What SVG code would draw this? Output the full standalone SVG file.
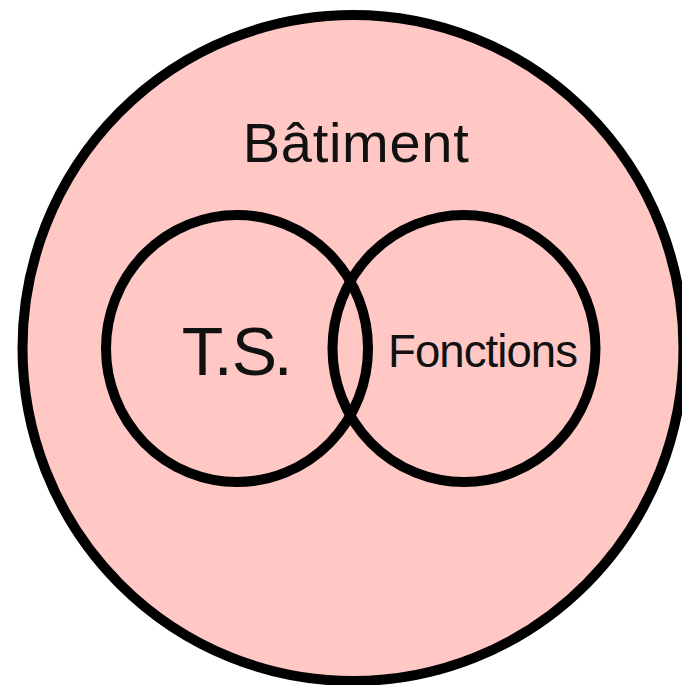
<svg xmlns="http://www.w3.org/2000/svg" width="682" height="685" viewBox="0 0 682 685">
  <style>
    .ring { fill: none; stroke: #000000; stroke-width: 10; }
    .label { font-family: "Liberation Sans", Arial, sans-serif; fill: #111111; }
  </style>
  <rect x="0" y="0" width="682" height="685" fill="#ffffff"/>
  <g id="batiment">
    <ellipse cx="353" cy="348" rx="330.5" ry="333" fill="#ffc8c5" stroke="#000000" stroke-width="10"/>
    <text class="label" x="242.7" y="161.7" font-size="56" textLength="226" lengthAdjust="spacing">Bâtiment</text>
  </g>
  <g id="connectors"></g>
  <g id="ts">
    <ellipse class="ring" cx="237" cy="348.5" rx="131" ry="133.5"/>
    <text class="label" font-size="68" y="375" x="181.7 213.8 231.8 273.8">T.S.</text>
  </g>
  <g id="fonctions">
    <ellipse class="ring" cx="464" cy="348.5" rx="131.5" ry="133.5"/>
    <text class="label" x="388" y="366.7" font-size="45.6" textLength="190" lengthAdjust="spacing">Fonctions</text>
  </g>
</svg>
